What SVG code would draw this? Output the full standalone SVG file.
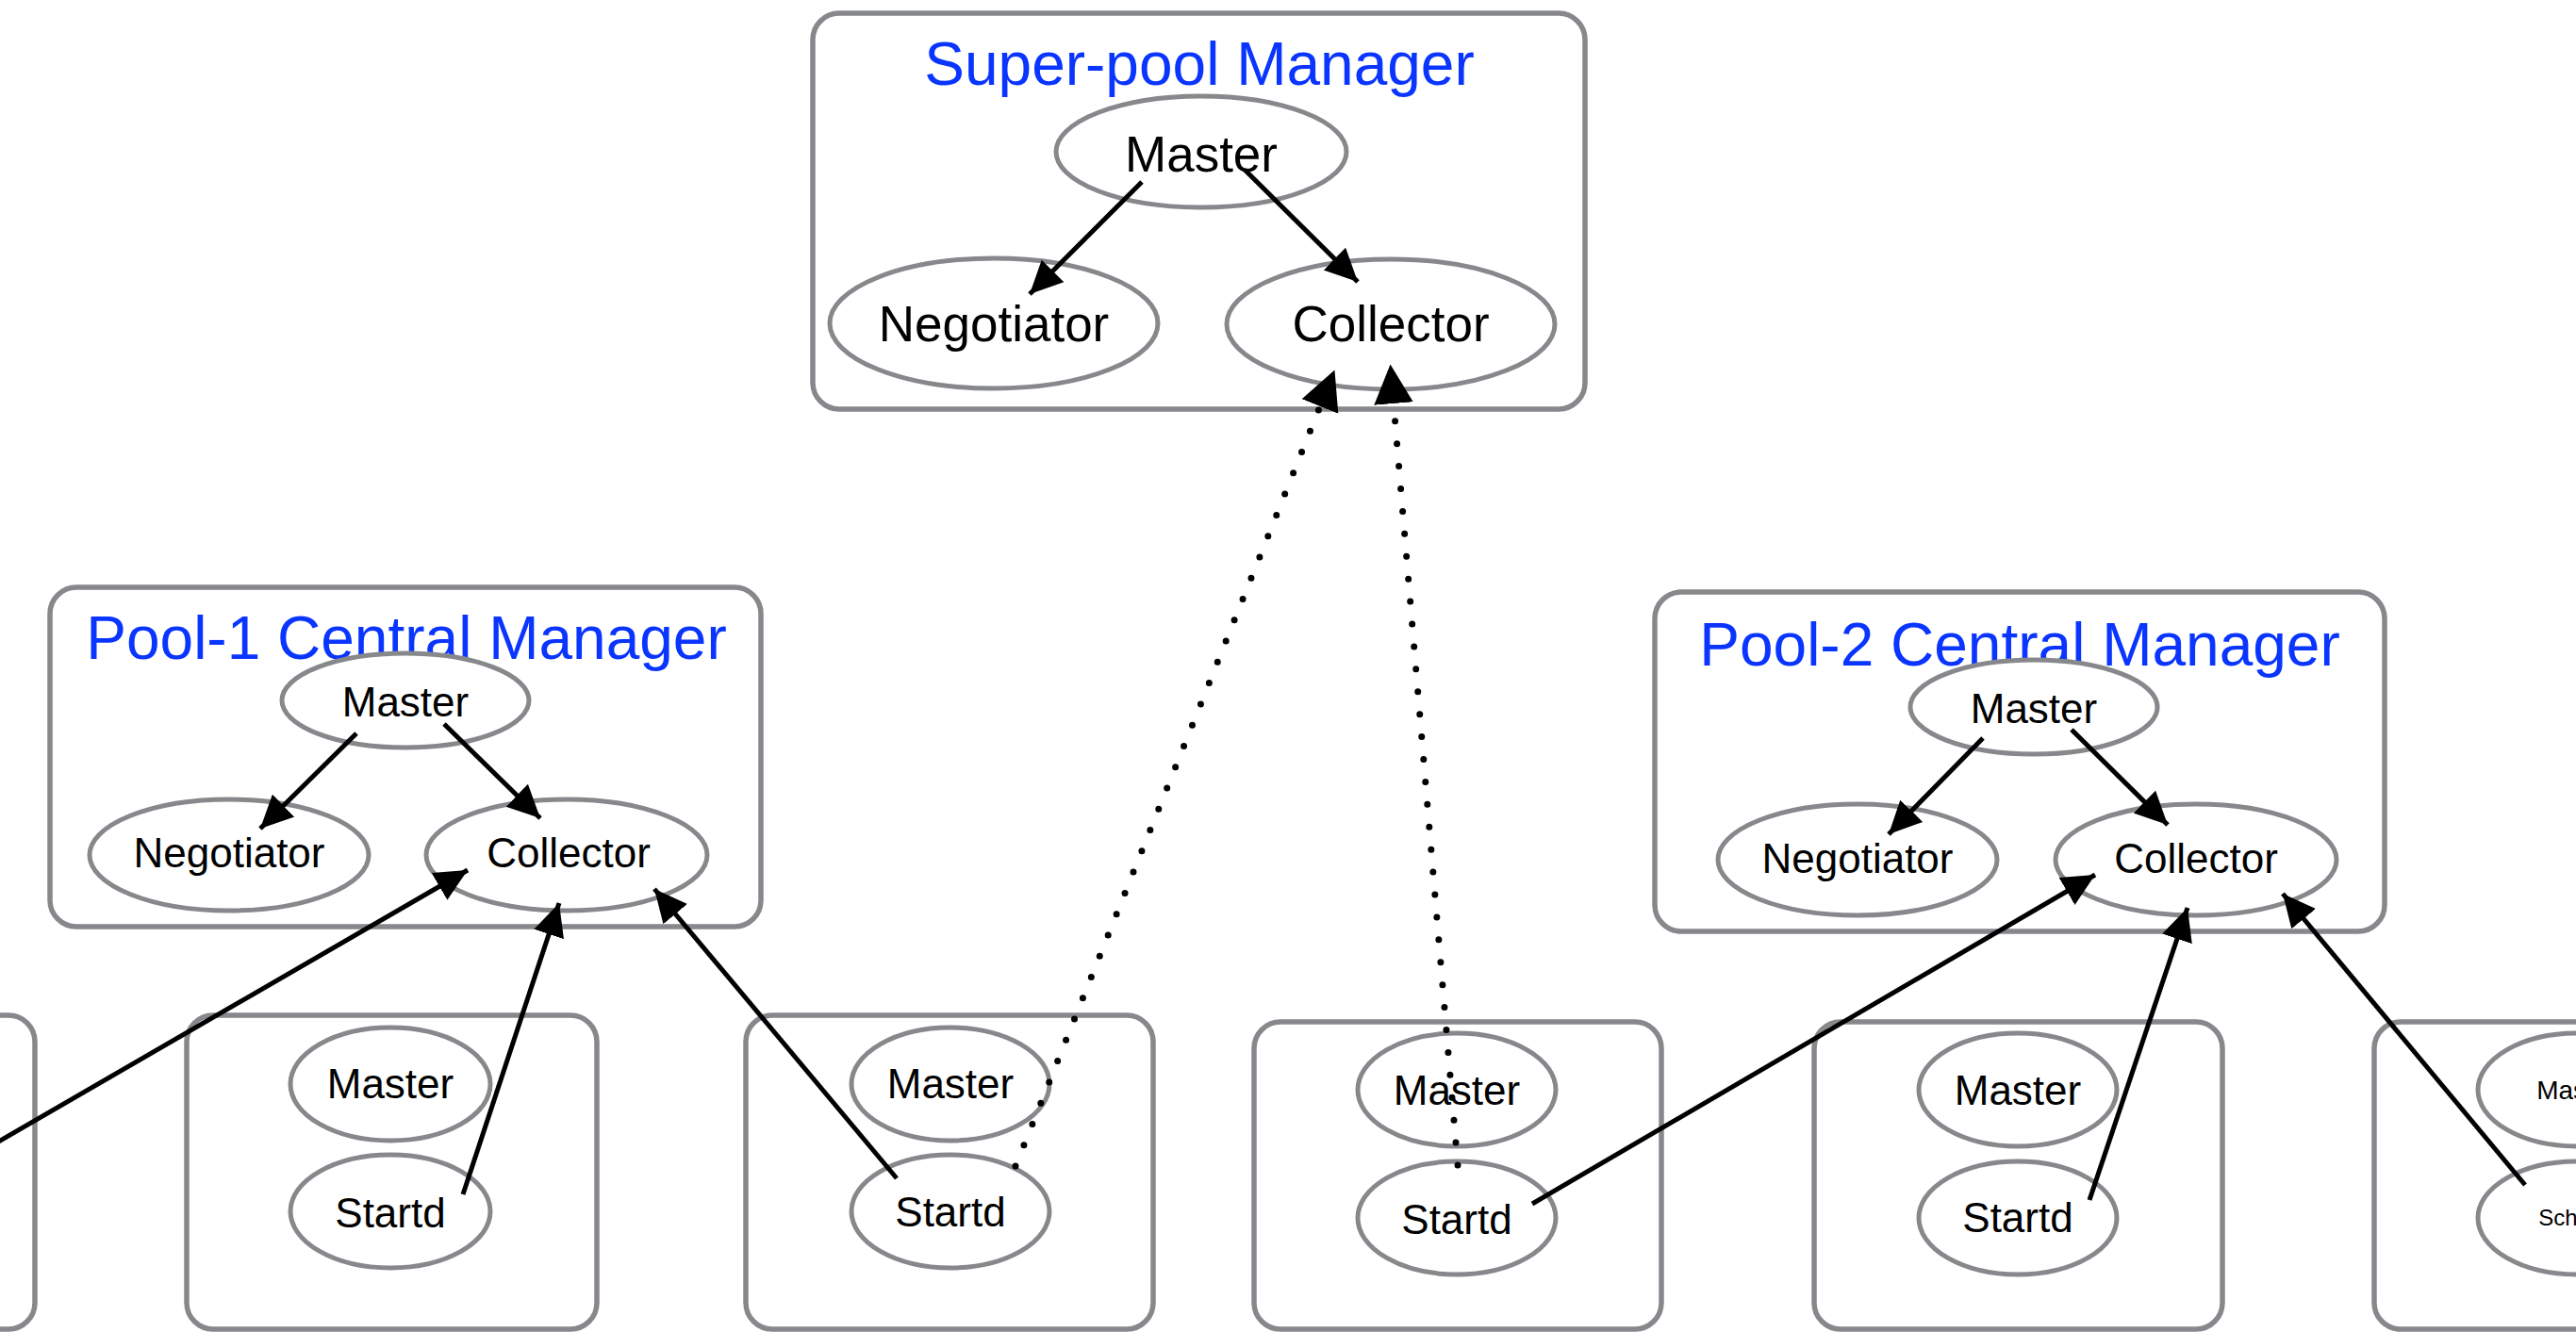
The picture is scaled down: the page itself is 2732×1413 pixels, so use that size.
<svg xmlns="http://www.w3.org/2000/svg" width="2732" height="1413" viewBox="0 0 2732 1413">
  <style>
    .box { fill: none; stroke: #86888c; stroke-width: 5.5; }
    .node { fill: #ffffff; stroke: #86888c; stroke-width: 5; }
    .title { font-family: "Liberation Sans", Arial, sans-serif; font-size: 64px; fill: #0a35ff; text-anchor: middle; }
    .lbl { font-family: "Liberation Sans", Arial, sans-serif; fill: #000000; text-anchor: middle; }
    .big { font-size: 53px; }
    .mid { font-size: 44px; }
    .edge { fill: none; stroke: #000000; stroke-width: 5; }
    .dots { fill: none; stroke: #000000; stroke-width: 7; stroke-linecap: round; stroke-dasharray: 0 24; }
  </style>
  <defs>
    <marker id="arrow" markerUnits="userSpaceOnUse" markerWidth="40" markerHeight="40" viewBox="0 -14 30 28" refX="26" refY="0" orient="auto">
      <path d="M0,-12.5 L26,0 L0,12.5 Z" fill="#000000"/>
    </marker>
    <marker id="arrowBig" markerUnits="userSpaceOnUse" markerWidth="44" markerHeight="44" viewBox="0 -18 36 36" refX="0" refY="0" orient="auto">
      <path d="M0,-17 L34,0 L0,17 Z" fill="#000000"/>
    </marker>
  </defs>

  <!-- Super-pool manager -->
  <g id="superpool">
    <rect class="box" x="862" y="14" width="819" height="420" rx="28"/>
    <text class="title" x="1272" y="90">Super-pool Manager</text>
  </g>
  <g id="sp-master">
    <ellipse class="node" cx="1274" cy="161" rx="154" ry="59"/>
    <text class="lbl big" x="1274" y="182">Master</text>
  </g>
  <g id="sp-negotiator">
    <ellipse class="node" cx="1054" cy="343" rx="174" ry="69"/>
    <text class="lbl big" x="1054" y="362">Negotiator</text>
  </g>
  <g id="sp-collector">
    <ellipse class="node" cx="1475" cy="344" rx="174" ry="69"/>
    <text class="lbl big" x="1475" y="362">Collector</text>
  </g>

  <!-- Pool-1 central manager -->
  <g id="pool1">
    <rect class="box" x="53" y="623" width="754" height="360" rx="28"/>
    <text class="title" x="431" y="699">Pool-1 Central Manager</text>
  </g>
  <g id="p1-master">
    <ellipse class="node" cx="430" cy="743" rx="131" ry="50"/>
    <text class="lbl mid" x="430" y="760">Master</text>
  </g>
  <g id="p1-negotiator">
    <ellipse class="node" cx="243" cy="907" rx="148" ry="59"/>
    <text class="lbl mid" x="243" y="920">Negotiator</text>
  </g>
  <g id="p1-collector">
    <ellipse class="node" cx="601" cy="907" rx="149" ry="59"/>
    <text class="lbl mid" x="603" y="920">Collector</text>
  </g>

  <!-- Pool-2 central manager -->
  <g id="pool2">
    <rect class="box" x="1755" y="628" width="774" height="360" rx="28"/>
    <text class="title" x="2142" y="706">Pool-2 Central Manager</text>
  </g>
  <g id="p2-master">
    <ellipse class="node" cx="2157" cy="750" rx="131" ry="50"/>
    <text class="lbl mid" x="2157" y="767">Master</text>
  </g>
  <g id="p2-negotiator">
    <ellipse class="node" cx="1970" cy="912" rx="148" ry="59"/>
    <text class="lbl mid" x="1970" y="926">Negotiator</text>
  </g>
  <g id="p2-collector">
    <ellipse class="node" cx="2329" cy="912" rx="149" ry="59"/>
    <text class="lbl mid" x="2329" y="926">Collector</text>
  </g>

  <!-- Execute / submit machines -->
  <g id="machine-0">
    <rect class="box" x="-400" y="1077" width="437" height="333" rx="28"/>
  </g>
  <g id="machine-a">
    <rect class="box" x="198" y="1077" width="435" height="333" rx="28"/>
    <ellipse class="node" cx="414" cy="1150" rx="106" ry="60"/>
    <text class="lbl mid" x="414" y="1165">Master</text>
    <ellipse class="node" cx="414" cy="1285" rx="106" ry="60"/>
    <text class="lbl mid" x="414" y="1302">Startd</text>
  </g>
  <g id="machine-b">
    <rect class="box" x="791" y="1077" width="432" height="333" rx="28"/>
    <ellipse class="node" cx="1008" cy="1150" rx="105" ry="60"/>
    <text class="lbl mid" x="1008" y="1165">Master</text>
    <ellipse class="node" cx="1008" cy="1285" rx="105" ry="60"/>
    <text class="lbl mid" x="1008" y="1301">Startd</text>
  </g>
  <g id="machine-c">
    <rect class="box" x="1330" y="1084" width="432" height="326" rx="28"/>
    <ellipse class="node" cx="1545" cy="1156" rx="105" ry="60"/>
    <text class="lbl mid" x="1545" y="1172">Master</text>
    <ellipse class="node" cx="1545" cy="1292" rx="105" ry="60"/>
    <text class="lbl mid" x="1545" y="1309">Startd</text>
  </g>
  <g id="machine-d">
    <rect class="box" x="1924" y="1084" width="433" height="326" rx="28"/>
    <ellipse class="node" cx="2140" cy="1156" rx="105" ry="60"/>
    <text class="lbl mid" x="2140" y="1172">Master</text>
    <ellipse class="node" cx="2140" cy="1292" rx="105" ry="60"/>
    <text class="lbl mid" x="2140" y="1307">Startd</text>
  </g>
  <g id="machine-e">
    <rect class="box" x="2518" y="1084" width="433" height="326" rx="28"/>
    <ellipse class="node" cx="2733" cy="1156" rx="105" ry="60"/>
    <text class="lbl" x="2733" y="1166" font-size="28">Master</text>
    <ellipse class="node" cx="2733" cy="1292" rx="105" ry="60"/>
    <text class="lbl" x="2733" y="1300" font-size="24">Schedd</text>
  </g>

  <!-- Connectors -->
  <g id="connectors">
    <!-- inside the super-pool manager -->
    <line class="edge" x1="1211" y1="193" x2="1092" y2="312" marker-end="url(#arrow)"/>
    <line class="edge" x1="1320" y1="180" x2="1440" y2="299" marker-end="url(#arrow)"/>
    <!-- inside pool-1 -->
    <line class="edge" x1="378" y1="778" x2="276" y2="879" marker-end="url(#arrow)"/>
    <line class="edge" x1="471" y1="768" x2="573" y2="868" marker-end="url(#arrow)"/>
    <!-- inside pool-2 -->
    <line class="edge" x1="2103" y1="783" x2="2003" y2="885" marker-end="url(#arrow)"/>
    <line class="edge" x1="2197" y1="774" x2="2299" y2="875" marker-end="url(#arrow)"/>
    <!-- machines reporting to pool-1 collector -->
    <line class="edge" x1="-10" y1="1216" x2="496" y2="923" marker-end="url(#arrow)"/>
    <line class="edge" x1="491" y1="1267" x2="593" y2="958" marker-end="url(#arrow)"/>
    <line class="edge" x1="951" y1="1250" x2="694" y2="943" marker-end="url(#arrow)"/>
    <!-- machines reporting to pool-2 collector -->
    <line class="edge" x1="1625" y1="1277" x2="2222" y2="928" marker-end="url(#arrow)"/>
    <line class="edge" x1="2216" y1="1273" x2="2320" y2="963" marker-end="url(#arrow)"/>
    <line class="edge" x1="2678" y1="1257" x2="2421" y2="948" marker-end="url(#arrow)"/>
    <!-- flocking to the super-pool collector -->
    <path class="dots" d="M1077,1237 L1400,431" marker-end="url(#arrowBig)"/>
    <path class="dots" d="M1546,1236 L1478,428" marker-end="url(#arrowBig)"/>
  </g>
</svg>
